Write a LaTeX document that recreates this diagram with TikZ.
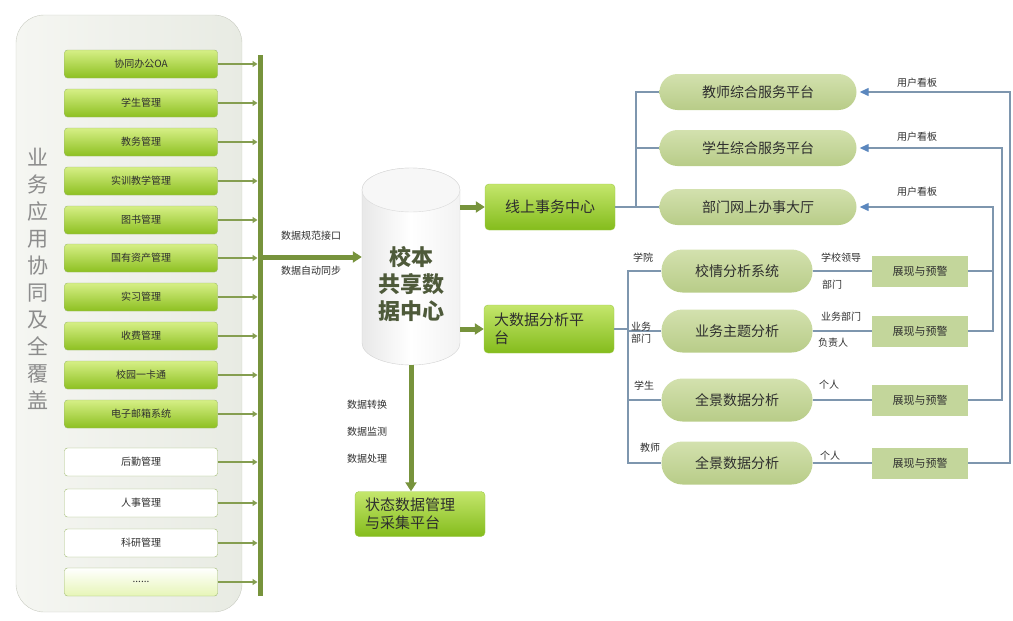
\documentclass[tikz,border=0pt]{standalone}
\usepackage{fontspec}
\newfontfamily\cjk{Noto Sans CJK SC}
\usetikzlibrary{arrows.meta}

\definecolor{appT}{HTML}{D6EF86}
\definecolor{appB}{HTML}{8DC021}
\definecolor{appline}{HTML}{9CB86C}
\definecolor{busgreen}{HTML}{77933C}
\definecolor{hubT}{HTML}{C4E66C}
\definecolor{hubB}{HTML}{84BC1C}
\definecolor{pillT}{HTML}{D3E1AE}
\definecolor{pillB}{HTML}{B8CC88}
\definecolor{showfill}{HTML}{C3D69B}
\definecolor{linkblue}{HTML}{7E96AE}
\definecolor{tipblue}{HTML}{5B87BE}
\definecolor{frameL}{HTML}{F5F6F2}
\definecolor{frameR}{HTML}{E8EBE3}
\definecolor{frameline}{HTML}{C9CCC2}
\definecolor{dbtext}{HTML}{4E5A3A}
\definecolor{ink}{HTML}{2E2E2E}

\newcommand\moredots{......}

\tikzset{
  appbox/.style={draw=appline, rounded corners=3pt, top color=appT, bottom color=appB,
    minimum width=153pt, minimum height=28pt, text=ink, font=\cjk\fontsize{10}{12}\selectfont},
  appwhite/.style={appbox, top color=white, bottom color=white},
  appmore/.style={appbox, top color=white, bottom color=appT!60},
  apparrow/.style={draw=busgreen!90, line width=2.5pt, -{Triangle[length=5pt,width=6pt]}, shorten >=2.5pt},
  bigarrow/.style={draw=busgreen, line width=5pt, -{Triangle[length=9pt,width=11pt]}},
  hubbox/.style={rounded corners=4pt, top color=hubT, bottom color=hubB, draw=hubB!80,
    minimum width=130pt, minimum height=46pt, text=ink, font=\cjk\fontsize{15}{18}\selectfont},
  svc/.style={rounded corners=18pt, top color=pillT, bottom color=pillB,
    minimum width=197pt, minimum height=36pt, text=ink, font=\cjk\fontsize{14}{16}\selectfont},
  ana/.style={svc, rounded corners=21pt, minimum width=151pt, minimum height=43pt},
  showbox/.style={fill=showfill, minimum width=96pt, minimum height=31pt, text=ink,
    font=\cjk\fontsize{11}{13}\selectfont},
  tag/.style={text=ink, inner sep=1pt, font=\cjk\fontsize{10}{12}\selectfont},
  link/.style={draw=linkblue, line width=1.3pt},
  feedback/.style={link, -{Triangle[length=9pt,width=8pt,color=tipblue]}, shorten >=3pt},
}

\begin{document}
\begin{tikzpicture}[x=1pt, y=-1pt, font=\cjk]
  \useasboundingbox (0,0) rectangle (1013,621);

  % 业务应用
  \draw[draw=frameline, left color=frameL, right color=frameR, rounded corners=28pt]
    (16,15) rectangle (242,612);
  \node[text=gray!90, align=center, font=\cjk\fontsize{21}{27}\selectfont] (ttl) at (38,279)
    {业\\务\\应\\用\\协\\同\\及\\全\\覆\\盖};

  % 总线
  \coordinate (bustop) at (260,55);
  \coordinate (busbot) at (260,596);
  \draw[busgreen, line width=5pt] (bustop) -- (busbot);

  \foreach \t/\y/\s [count=\i] in {协同办公OA/64/appbox, 学生管理/103/appbox, 教务管理/142/appbox,
      实训教学管理/181/appbox, 图书管理/220/appbox, 国有资产管理/258/appbox, 实习管理/297/appbox,
      收费管理/336/appbox, 校园一卡通/375/appbox, 电子邮箱系统/414/appbox, 后勤管理/462/appwhite,
      人事管理/503/appwhite, 科研管理/543/appwhite, \moredots/582/appmore}{
    \node[\s] (app\i) at (141,\y) {\t};
    \draw[apparrow] (app\i.east) -- (app\i.east -| bustop);
  }

  % 数据中心
  \node[minimum width=98pt, minimum height=197pt] (db) at (411,266) {};
  \draw[draw=gray!35, left color=gray!18, right color=gray!10, middle color=white]
    (362,190) -- (362,343) arc (180:0:49 and 22) -- (460,190) arc (0:-180:49 and 22) -- cycle;
  \draw[draw=gray!30, fill=gray!6] (411,190) ellipse (49 and 22);
  \node[text=dbtext, align=center, font=\cjk\bfseries\fontsize{22}{27}\selectfont] (dbname) at (411,284)
    {校本\\共享数\\据中心};

  \coordinate (sync) at (260,257);
  \draw[bigarrow] (sync) -- (sync -| db.west);
  \node[tag] (spec) at (311,236) {数据规范接口};
  \node[tag] (auto) at (311,271) {数据自动同步};

  \node[hubbox] (online) at (550,207) {线上事务中心};
  \node[hubbox, align=left, text width=110pt, minimum height=48pt] (bigdata) at (549,329) {大数据分析平\\台};
  \node[hubbox, align=left, text width=110pt, minimum height=45pt] (state) at (420,514) {状态数据管理\\与采集平台};
  \draw[bigarrow] (db.east |- online.west) -- (online.west);
  \draw[bigarrow] (db.east |- bigdata.west) -- (bigdata.west);
  \draw[bigarrow] (db.south) -- (db.south |- state.north);

  \node[tag] (conv) at (367,405) {数据转换};
  \node[tag] (mon) at (367,432) {数据监测};
  \node[tag] (proc) at (367,459) {数据处理};

  % 服务平台
  \node[svc] (svc1) at (758,92) {教师综合服务平台};
  \node[svc] (svc2) at (758,148) {学生综合服务平台};
  \node[svc] (svc3) at (758,207) {部门网上办事大厅};
  \coordinate (hubA) at (636,92);
  \draw[link] (svc1.west) -- (hubA |- svc1.west) -- (hubA |- online.east) -- (online.east);
  \draw[link] (svc2.west) -- (hubA |- svc2.west);
  \draw[link] (svc3.west) -- (hubA |- svc3.west);

  % 分析
  \foreach \t/\y [count=\i] in {校情分析系统/271, 业务主题分析/331, 全景数据分析/400, 全景数据分析/463}{
    \node[ana] (ana\i) at (737,\y) {\t};
    \node[showbox] (show\i) at (920,\y) {展现与预警};
    \draw[link] (ana\i.east) -- (show\i.west);
  }
  \coordinate (hubB) at (628,271);
  \draw[link] (ana1.west) -- (hubB |- ana1.west) -- (hubB |- ana4.west) -- (ana4.west);
  \draw[link] (bigdata.east) -- (hubB |- bigdata.east);
  \draw[link] (ana2.west) -- (hubB |- ana2.west);
  \draw[link] (ana3.west) -- (hubB |- ana3.west);

  \node[tag] (who1) at (643,258) {学院};
  \node[tag, align=center, font=\cjk\fontsize{10}{12}\selectfont] (who2) at (641,333) {业务\\部门};
  \node[tag] (who3) at (644,386) {学生};
  \node[tag] (who4) at (650,448) {教师};

  \node[tag] (lead) at (841,258) {学校领导};
  \node[tag] (dept) at (832,285) {部门};
  \node[tag] (head) at (841,317) {业务部门};
  \node[tag] (resp) at (833,343) {负责人};
  \node[tag] (self1) at (829,385) {个人};
  \node[tag] (self2) at (830,456) {个人};

  % 用户看板
  \coordinate (fbA) at (1010,92);
  \coordinate (fbB) at (1002,148);
  \coordinate (fbC) at (993,207);
  \draw[feedback] (show4.east) -- (show4.east -| fbA) -- (fbA |- svc1.east) -- (svc1.east);
  \draw[feedback] (show3.east) -- (show3.east -| fbB) -- (fbB |- svc2.east) -- (svc2.east);
  \draw[feedback] (show2.east) -- (show2.east -| fbC) -- (fbC |- svc3.east) -- (svc3.east);
  \draw[link] (show1.east) -- (show1.east -| fbC);
  \node[tag] (board1) at (917,83) {用户看板};
  \node[tag] (board2) at (917,137) {用户看板};
  \node[tag] (board3) at (917,192) {用户看板};
\end{tikzpicture}
\end{document}
